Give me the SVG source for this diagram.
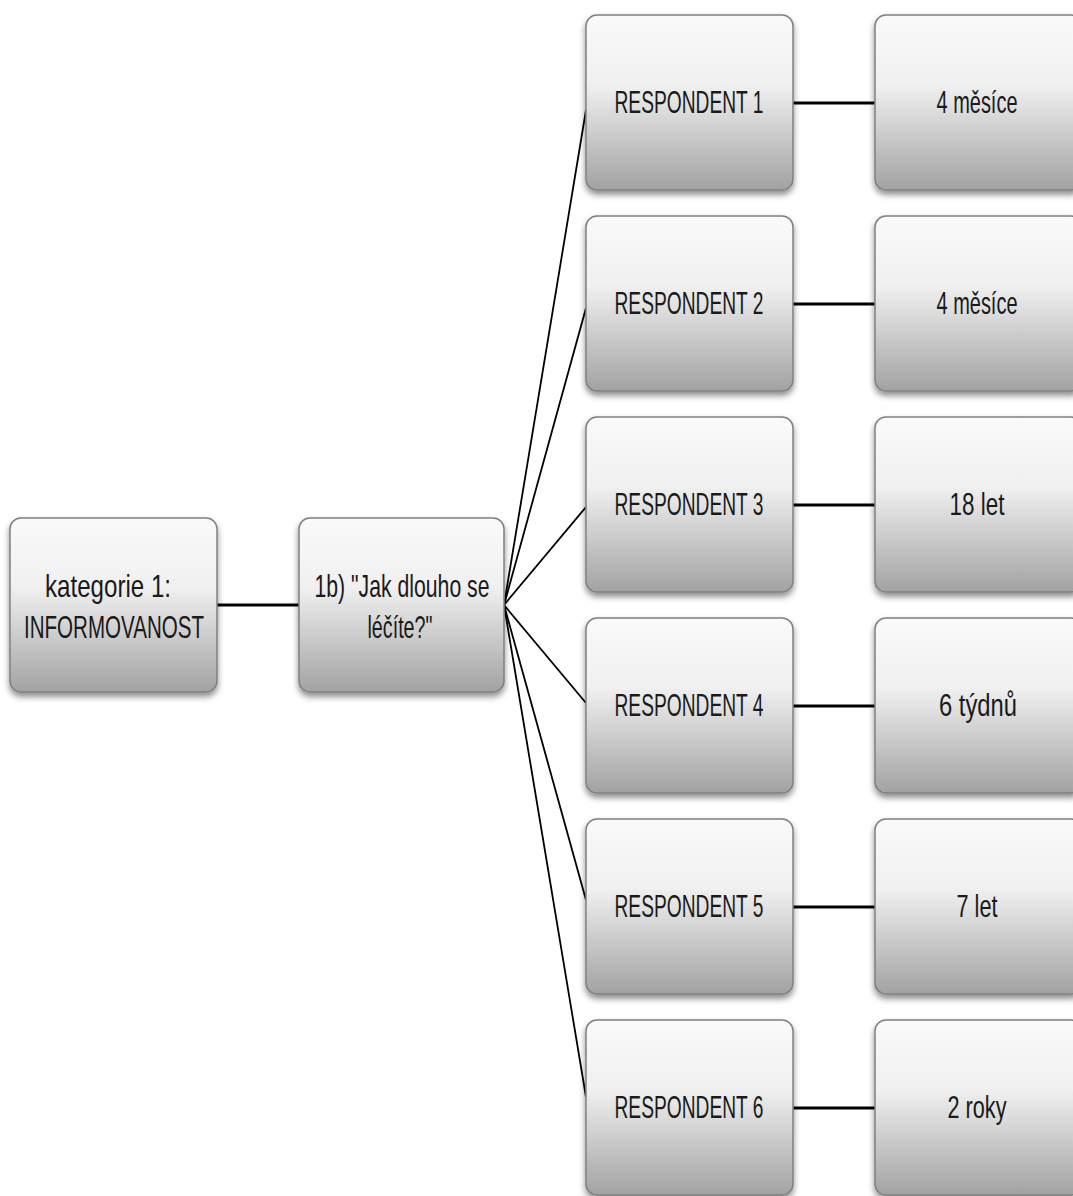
<svg xmlns="http://www.w3.org/2000/svg" width="1073" height="1196" viewBox="0 0 1073 1196">
<defs>
<linearGradient id="g" x1="0" y1="0" x2="0" y2="1">
<stop offset="0" stop-color="#fafafa"/>
<stop offset="0.4" stop-color="#f0f0f0"/>
<stop offset="0.6" stop-color="#d6d6d6"/>
<stop offset="1" stop-color="#a2a2a2"/>
</linearGradient>
<filter id="sh" x="-10%" y="-10%" width="120%" height="125%">
<feDropShadow dx="0" dy="4" stdDeviation="3" flood-color="#000" flood-opacity="0.45"/>
</filter>
</defs>
<style>
.box{fill:url(#g);stroke:#808080;stroke-width:1.5;filter:url(#sh)}
.t{font-family:"Liberation Sans Narrow","Liberation Sans",Arial,sans-serif;font-size:32px;fill:#1a1a1a;text-anchor:middle}
.thick{stroke:#000;stroke-width:3;fill:none}
.thin{stroke:#000;stroke-width:1.8;fill:none}
</style>
<rect width="1073" height="1196" fill="#fff"/>
<g id="connectors">
<line class="thick" x1="217" y1="605" x2="299" y2="605"/>
<line class="thin" x1="504" y1="605" x2="586" y2="110"/>
<line class="thin" x1="504" y1="605" x2="586" y2="308"/>
<line class="thin" x1="504" y1="605" x2="586" y2="507"/>
<line class="thin" x1="504" y1="605" x2="586" y2="703"/>
<line class="thin" x1="504" y1="605" x2="586" y2="900"/>
<line class="thin" x1="504" y1="605" x2="586" y2="1097"/>
<line class="thick" x1="793" y1="103" x2="875" y2="103"/>
<line class="thick" x1="793" y1="304" x2="875" y2="304"/>
<line class="thick" x1="793" y1="505" x2="875" y2="505"/>
<line class="thick" x1="793" y1="706" x2="875" y2="706"/>
<line class="thick" x1="793" y1="907" x2="875" y2="907"/>
<line class="thick" x1="793" y1="1108" x2="875" y2="1108"/>
</g>
<g id="kategorie">
<rect class="box" x="10" y="518" width="207" height="174" rx="11"/>
<text class="t" x="108" y="597" textLength="126" lengthAdjust="spacingAndGlyphs">kategorie 1:</text>
<text class="t" x="114" y="638" textLength="180" lengthAdjust="spacingAndGlyphs">INFORMOVANOST</text>
</g>
<g id="otazka">
<rect class="box" x="299" y="518" width="205" height="174" rx="11"/>
<text class="t" x="402" y="597" textLength="175" lengthAdjust="spacingAndGlyphs">1b) "Jak dlouho se</text>
<text class="t" x="400" y="638" textLength="65" lengthAdjust="spacingAndGlyphs">léčíte?"</text>
</g>
<g id="r1">
<rect class="box" x="586" y="15" width="207" height="175" rx="11"/>
<text class="t" x="689" y="113" textLength="149" lengthAdjust="spacingAndGlyphs">RESPONDENT 1</text>
</g>
<g id="r2">
<rect class="box" x="586" y="216" width="207" height="175" rx="11"/>
<text class="t" x="689" y="314" textLength="149" lengthAdjust="spacingAndGlyphs">RESPONDENT 2</text>
</g>
<g id="r3">
<rect class="box" x="586" y="417" width="207" height="175" rx="11"/>
<text class="t" x="689" y="515" textLength="149" lengthAdjust="spacingAndGlyphs">RESPONDENT 3</text>
</g>
<g id="r4">
<rect class="box" x="586" y="618" width="207" height="175" rx="11"/>
<text class="t" x="689" y="716" textLength="149" lengthAdjust="spacingAndGlyphs">RESPONDENT 4</text>
</g>
<g id="r5">
<rect class="box" x="586" y="819" width="207" height="175" rx="11"/>
<text class="t" x="689" y="917" textLength="149" lengthAdjust="spacingAndGlyphs">RESPONDENT 5</text>
</g>
<g id="r6">
<rect class="box" x="586" y="1020" width="207" height="175" rx="11"/>
<text class="t" x="689" y="1118" textLength="149" lengthAdjust="spacingAndGlyphs">RESPONDENT 6</text>
</g>
<g id="a1">
<rect class="box" x="875" y="15" width="207" height="175" rx="11"/>
<text class="t" x="977" y="113" textLength="81" lengthAdjust="spacingAndGlyphs">4 měsíce</text>
</g>
<g id="a2">
<rect class="box" x="875" y="216" width="207" height="175" rx="11"/>
<text class="t" x="977" y="314" textLength="81" lengthAdjust="spacingAndGlyphs">4 měsíce</text>
</g>
<g id="a3">
<rect class="box" x="875" y="417" width="207" height="175" rx="11"/>
<text class="t" x="977" y="515" textLength="55" lengthAdjust="spacingAndGlyphs">18 let</text>
</g>
<g id="a4">
<rect class="box" x="875" y="618" width="207" height="175" rx="11"/>
<text class="t" x="978" y="716" textLength="78" lengthAdjust="spacingAndGlyphs">6 týdnů</text>
</g>
<g id="a5">
<rect class="box" x="875" y="819" width="207" height="175" rx="11"/>
<text class="t" x="977" y="917" textLength="41" lengthAdjust="spacingAndGlyphs">7 let</text>
</g>
<g id="a6">
<rect class="box" x="875" y="1020" width="207" height="175" rx="11"/>
<text class="t" x="977" y="1118" textLength="59" lengthAdjust="spacingAndGlyphs">2 roky</text>
</g>
</svg>
